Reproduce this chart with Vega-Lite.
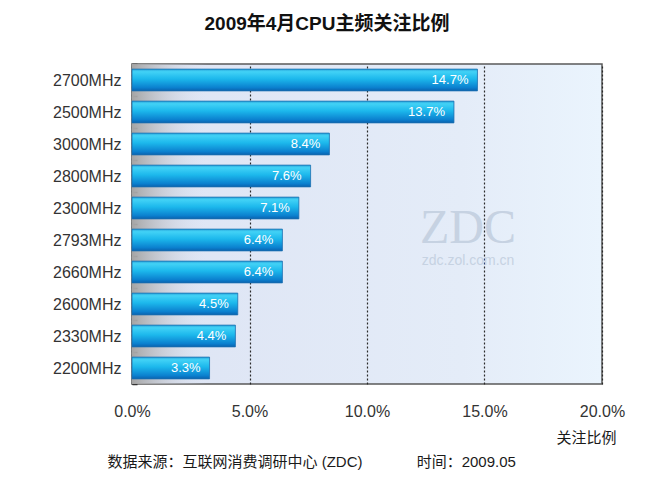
{
  "$schema": "https://vega.github.io/schema/vega-lite/v6.json",
  "width": 470,
  "height": 320,
  "autosize": "none",
  "padding": {"left": 132, "top": 64, "right": 48, "bottom": 103},
  "background": "#ffffff",
  "title": {
    "text": "2009年4月CPU主频关注比例",
    "font": "Liberation Sans, Noto Sans CJK SC",
    "fontSize": 19,
    "fontWeight": "bold",
    "color": "#111111",
    "anchor": "middle",
    "dx": -40,
    "offset": 22
  },
  "config": {
    "view": {
      "stroke": "#5a5a5a",
      "strokeWidth": 1.5,
      "fill": {
        "gradient": "linear",
        "x1": 0, "y1": 0, "x2": 1, "y2": 0,
        "stops": [
          {"offset": 0, "color": "#dde4f4"},
          {"offset": 0.7, "color": "#e4ecf8"},
          {"offset": 1, "color": "#eaf4fd"}
        ]
      }
    }
  },
  "data": {
    "values": [
      {"freq": "2700MHz", "share": 0.147},
      {"freq": "2500MHz", "share": 0.137},
      {"freq": "3000MHz", "share": 0.084},
      {"freq": "2800MHz", "share": 0.076},
      {"freq": "2300MHz", "share": 0.071},
      {"freq": "2793MHz", "share": 0.064},
      {"freq": "2660MHz", "share": 0.064},
      {"freq": "2600MHz", "share": 0.045},
      {"freq": "2330MHz", "share": 0.044},
      {"freq": "2200MHz", "share": 0.033}
    ]
  },
  "encoding": {
    "y": {
      "field": "freq",
      "type": "nominal",
      "sort": null,
      "scale": {"paddingInner": 0, "paddingOuter": 0},
      "axis": {
        "title": "数据来源：互联网消费调研中心 (ZDC)\u00a0\u00a0\u00a0\u00a0\u00a0\u00a0\u00a0\u00a0\u00a0\u00a0\u00a0\u00a0\u00a0时间：2009.05",
        "titleAngle": 0,
        "titleAlign": "left",
        "titleBaseline": "middle",
        "titleX": -25,
        "titleY": 397,
        "titleFont": "Liberation Sans, Noto Sans CJK SC",
        "titleFontSize": 15,
        "titleFontWeight": "normal",
        "titleColor": "#1a1a1a",
        "domain": false,
        "tickBand": "extent",
        "tickSize": -5,
        "tickColor": "#333333",
        "tickWidth": 1.5,
        "labelPadding": 16,
        "labelFont": "Liberation Sans",
        "labelFontSize": 16,
        "labelColor": "#333333"
      }
    }
  },
  "layer": [
    {
      "mark": {
        "type": "bar",
        "height": {"band": 1},
        "color": {
          "gradient": "linear",
          "x1": 0, "y1": 0, "x2": 1, "y2": 0,
          "stops": [
            {"offset": 0, "color": "#a5a5a5"},
            {"offset": 0.16, "color": "rgba(222,229,244,0)"},
            {"offset": 1, "color": "rgba(222,229,244,0)"}
          ]
        }
      },
      "encoding": {"x": {"datum": 0.2, "type": "quantitative"}}
    },
    {
      "data": {"values": [{"wm": "ZDC"}]},
      "mark": {
        "type": "text",
        "font": "Liberation Serif",
        "fontSize": 48,
        "baseline": "alphabetic",
        "color": "#c6d2e2",
        "yOffset": 35
      },
      "encoding": {
        "x": {"datum": 0.143, "type": "quantitative"},
        "y": {"datum": "2300MHz"},
        "text": {"field": "wm"}
      }
    },
    {
      "data": {"values": [{"wm": "zdc.zol.com.cn"}]},
      "mark": {
        "type": "text",
        "font": "Liberation Sans",
        "fontSize": 14,
        "baseline": "top",
        "color": "#c6d2e2",
        "yOffset": 14
      },
      "encoding": {
        "x": {"datum": 0.143, "type": "quantitative"},
        "y": {"datum": "2793MHz"},
        "text": {"field": "wm"}
      }
    },
    {
      "mark": {
        "type": "bar",
        "height": {"band": 0.68},
        "stroke": "#1b6fb0",
        "strokeWidth": 0.8,
        "color": {
          "gradient": "linear",
          "x1": 0, "y1": 0, "x2": 0, "y2": 1,
          "stops": [
            {"offset": 0, "color": "#2aa6dc"},
            {"offset": 0.12, "color": "#42d2f6"},
            {"offset": 0.45, "color": "#1cb8ec"},
            {"offset": 0.85, "color": "#0b80cf"},
            {"offset": 1, "color": "#0a62ae"}
          ]
        }
      },
      "encoding": {
        "x": {
          "field": "share",
          "type": "quantitative",
          "scale": {"domain": [0, 0.2]},
          "axis": {
            "title": "关注比例",
            "titleFont": "Liberation Sans, Noto Sans CJK SC",
            "titleFontSize": 15,
            "titleFontWeight": "normal",
            "titleColor": "#1a1a1a",
            "titleAlign": "right",
            "titleAnchor": "end",
            "titleBaseline": "middle",
            "titleX": 484,
            "titleY": 53,
            "values": [0, 0.05, 0.1, 0.15, 0.2],
            "format": ".1%",
            "labelFlush": false,
            "domain": false,
            "ticks": false,
            "grid": true,
            "gridColor": "#2a2a2a",
            "gridDash": [2, 2],
            "gridWidth": 1.2,
            "labelPadding": 19,
            "labelFont": "Liberation Sans",
            "labelFontSize": 16,
            "labelColor": "#333333"
          }
        }
      }
    },
    {
      "mark": {
        "type": "text",
        "align": "right",
        "baseline": "middle",
        "dx": -9,
        "font": "Liberation Sans",
        "fontSize": 13,
        "color": "#ffffff"
      },
      "encoding": {
        "x": {"field": "share", "type": "quantitative"},
        "text": {"field": "share", "type": "quantitative", "format": ".1%"}
      }
    }
  ]
}
